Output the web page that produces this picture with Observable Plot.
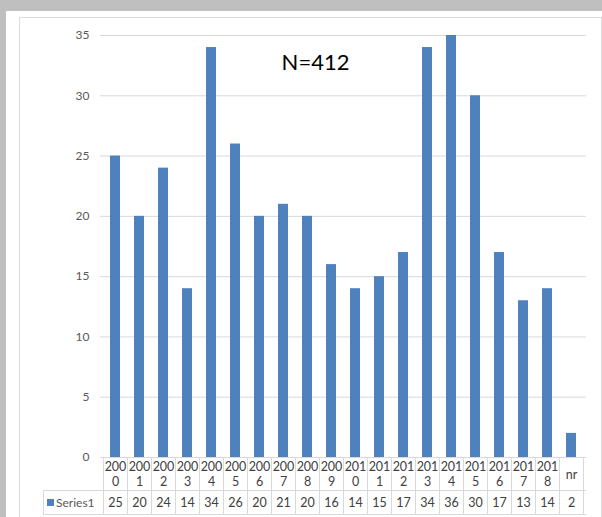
<!DOCTYPE html>
<html><head><meta charset="utf-8">
<script src="https://cdn.jsdelivr.net/npm/d3@7"></script>
<script src="https://cdn.jsdelivr.net/npm/@observablehq/plot@0.6"></script>
<style>
html,body{margin:0;padding:0;background:#bfbfbf;width:602px;height:517px;overflow:hidden;font-family:Lato,"Open Sans",sans-serif}
#white{position:absolute;left:6px;top:11px;width:596px;height:506px;background:#fff}
#frame{position:absolute;left:19px;top:17px;width:581px;height:520px;border:1px solid #dcdcdc}
#chart{position:absolute;left:0;top:0}
</style>
</head><body>
<div id="white"></div>
<div id="frame"></div>
<div id="chart"></div>
<script>
const categories = ["2000","2001","2002","2003","2004","2005","2006","2007","2008","2009","2010","2011","2012","2013","2014","2015","2016","2017","2018","nr"];
const values = [25,20,24,14,34,26,20,21,20,16,14,15,17,34,36,30,17,13,14,2];
const yTicks = [0,5,10,15,20,25,30,35];
const seriesName = "Series1";
const annotation = "N=412";

const data = categories.map((c, i) => ({
  cat: c,
  value: values[i],
  label: c.length > 3 ? c.slice(0, 3) + "\n" + c.slice(3) : c
}));

const blue = "#4f81bd";
const textCol = "#404040";
const lineCol = "#d9d9d9";

const chart = Plot.plot({
  width: 602, height: 517,
  marginLeft: 100, marginRight: 16, marginTop: 35, marginBottom: 60,
  style: {background: "transparent", fontFamily: "Lato, 'Open Sans', sans-serif", fontSize: "12px", color: "#595959", overflow: "visible"},
  x: {domain: categories, paddingInner: 0.6, paddingOuter: 0.3, axis: null},
  y: {domain: [0, 35], ticks: yTicks, tickSize: 0, tickPadding: 11, label: null},
  marks: [
    Plot.ruleY(yTicks.slice(1), {stroke: lineCol, strokeWidth: 1}),
    Plot.barY(data, {x: "cat", y: "value", fill: blue, clip: true}),
    Plot.text([annotation], {text: d => d, frameAnchor: "top", dx: -28, dy: 27, fontSize: 22, fill: "#000", lineAnchor: "middle"}),
    Plot.text(data, {x: "cat", y: () => 0, text: "label", dy: 16.5, lineAnchor: "middle", lineHeight: 1.2, fontSize: 12.5, fill: textCol}),
    Plot.text(data, {x: "cat", y: () => 0, text: d => String(d.value), dy: 45.5, lineAnchor: "middle", fontSize: 12.5, fill: textCol})
  ]
});
document.getElementById("chart").appendChild(chart);

// data table grid, positioned from Plot's own scales
const xs = chart.scale("x");
const ys = chart.scale("y");
const step = xs.step, bw = xs.bandwidth;
const top0 = ys.apply(0);
const rowMid = top0 + 33, rowBot = top0 + 57;
const left = xs.range[0], right = xs.range[1];
const tableLeft = 43;
const svg = d3.select(chart);
const g = svg.append("g").attr("stroke", lineCol).attr("stroke-width", 1).attr("shape-rendering", "crispEdges");
const bounds = categories.map(c => xs.apply(c) - (step - bw) / 2).concat([xs.apply(categories[categories.length - 1]) + bw + (step - bw) / 2]);
bounds.forEach(b => g.append("line").attr("x1", Math.round(b) + 0.5).attr("x2", Math.round(b) + 0.5).attr("y1", top0).attr("y2", rowBot));
g.append("line").attr("x1", left).attr("x2", right).attr("y1", Math.round(top0) + 0.5).attr("y2", Math.round(top0) + 0.5);
g.append("line").attr("x1", tableLeft).attr("x2", right).attr("y1", rowMid + 0.5).attr("y2", rowMid + 0.5);
g.append("line").attr("x1", tableLeft).attr("x2", right).attr("y1", rowBot + 0.5).attr("y2", rowBot + 0.5);
g.append("line").attr("x1", tableLeft + 0.5).attr("x2", tableLeft + 0.5).attr("y1", rowMid).attr("y2", rowBot);
svg.append("rect").attr("x", tableLeft + 4).attr("y", rowMid + 9).attr("width", 7).attr("height", 7).attr("fill", blue);
svg.append("text").attr("x", tableLeft + 13).attr("y", rowMid + 12.5).attr("dy", "0.35em")
  .attr("text-anchor", "start").attr("fill", "#595959").attr("font-size", 12).text(seriesName);
</script>
</body></html>
